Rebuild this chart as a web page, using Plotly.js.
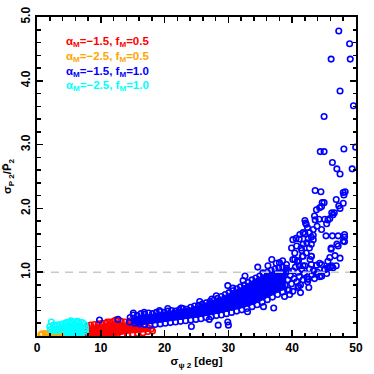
<!DOCTYPE html>
<html>
<head>
<meta charset="utf-8">
<script src="https://cdn.plot.ly/plotly-3.0.1.min.js"></script>
<style>
  html, body { margin: 0; padding: 0; background: #fff; }
  #plot { width: 374px; height: 374px; }
</style>
</head>
<body>
<div id="plot"></div>
<script>
// Values (x = sigma_psi2 in deg, y = sigma_P2 / mean P2).

const legendLabels = [
  "α<sub>M</sub>=−1.5, f<sub>M</sub>=0.5",
  "α<sub>M</sub>=−2.5, f<sub>M</sub>=0.5",
  "α<sub>M</sub>=−1.5, f<sub>M</sub>=1.0",
  "α<sub>M</sub>=−2.5, f<sub>M</sub>=1.0",
];
const groupColors = ["#ff0000", "#ffa500", "#0000ff", "#00ffff"];

const xTickVals = [0, 10, 20, 30, 40, 50];
const yTickVals = [1, 2, 3, 4, 5];
const yTickText = ["1.0", "2.0", "3.0", "4.0", "5.0"];
const refLineX = [0, 50];
const refLineY = [1, 1];

// Envelopes of the saturated (overplotted) cores of each cloud.
const redCoreX = [8.0, 8.0, 9.0, 10.0, 11.0, 12.0, 13.0, 14.0, 15.0, 16.0, 17.0, 17.8, 17.5, 16.0, 14.0, 13.0, 12.5];
const redCoreY = [0.0, 0.14, 0.17, 0.18, 0.19, 0.21, 0.22, 0.20, 0.20, 0.18, 0.14, 0.10, 0.07, 0.06, 0.04, 0.02, 0.0];
const orangeCoreX = [0.9, 0.9, 4.0, 4.0];
const orangeCoreY = [0.0, 0.03, 0.03, 0.0];
const cyanCoreX = [2.3, 2.3, 3.0, 4.0, 5.0, 6.0, 7.0, 7.4, 7.4, 4.3, 4.3];
const cyanCoreY = [0.07, 0.14, 0.16, 0.18, 0.20, 0.21, 0.20, 0.16, 0.0, 0.0, 0.07];
const blueCoreX = [14.8, 16, 18, 20, 22, 24, 26, 28, 30, 32, 34, 36, 38, 39.0,
  39.0, 38, 36, 34, 32, 30, 28, 26, 24, 22, 20, 18, 16, 14.8];
const blueCoreY = [0.28, 0.32, 0.34, 0.37, 0.40, 0.44, 0.50, 0.57, 0.66, 0.76, 0.88, 0.98, 1.04, 1.03,
  0.74, 0.70, 0.60, 0.50, 0.44, 0.39, 0.35, 0.31, 0.28, 0.25, 0.22, 0.19, 0.17, 0.20];

// Individual circles visible around / outside the cores.
const redPts = [
  [7.9, 0.15], [8.4, 0.17], [9.0, 0.18], [9.6, 0.19], [10.2, 0.20], [10.8, 0.20], [11.4, 0.22],
  [12.0, 0.23], [12.6, 0.24], [13.2, 0.23], [13.8, 0.22], [14.4, 0.21], [15.0, 0.22], [15.6, 0.20],
  [16.2, 0.19], [16.8, 0.16], [17.4, 0.13], [17.9, 0.11], [18.1, 0.08], [7.9, 0.10], [7.9, 0.05],
  [8.0, 0.02], [17.4, 0.07], [16.6, 0.05], [15.8, 0.04], [15.0, 0.03], [14.2, 0.02], [13.4, 0.01],
  [12.3, 0.25], [11.0, 0.22], [14.7, 0.24],
];
const orangePts = [
  [0.8, 0.035], [1.3, 0.04], [1.8, 0.04], [2.3, 0.04], [2.8, 0.04], [3.3, 0.04], [3.8, 0.04],
  [4.2, 0.03], [0.6, 0.02], [4.3, 0.015],
];
const cyanPts = [
  [2.25, 0.22], [2.0, 0.15], [2.1, 0.10], [2.6, 0.17], [3.1, 0.17], [3.6, 0.18], [4.1, 0.19],
  [4.6, 0.21], [5.1, 0.21], [5.6, 0.22], [6.1, 0.22], [6.6, 0.22], [7.1, 0.21], [7.5, 0.18],
  [7.6, 0.13], [7.6, 0.08], [7.6, 0.03], [2.6, 0.08], [3.2, 0.08], [3.8, 0.09], [5.3, 0.24],
  [6.3, 0.23],
];
const bluePts = [
  // upper edge of the band
  [14.6, 0.29], [15.1, 0.33], [15.7, 0.32], [16.3, 0.35], [16.9, 0.34], [17.5, 0.36], [18.1, 0.35],
  [18.7, 0.37], [19.3, 0.38], [19.9, 0.37], [20.5, 0.39], [21.1, 0.40], [21.7, 0.39], [22.3, 0.41],
  [22.9, 0.43], [23.5, 0.42], [24.1, 0.45], [24.7, 0.47], [25.3, 0.48], [25.9, 0.50], [26.5, 0.52],
  [27.1, 0.54], [27.7, 0.56], [28.3, 0.59], [28.9, 0.62], [29.5, 0.65], [30.1, 0.68], [30.7, 0.71],
  [31.3, 0.74], [31.9, 0.77], [32.5, 0.80], [33.1, 0.84], [33.7, 0.88], [34.3, 0.91], [34.9, 0.94],
  [35.5, 0.97], [36.1, 1.00], [36.7, 1.03], [37.3, 1.05], [37.9, 1.07], [38.5, 1.08], [39.1, 1.06],
  // just above the band
  [15.1, 0.36], [16.8, 0.37], [19.2, 0.40], [20.5, 0.43], [22.6, 0.44], [25.5, 0.54], [27.4, 0.58],
  [28.1, 0.63], [29.9, 0.79], [30.7, 0.75], [32.3, 0.87], [32.6, 0.94], [34.6, 1.08], [35.4, 0.99],
  [36.8, 1.20], [37.5, 1.14], [38.0, 1.15], [39.1, 1.12], [36.2, 1.10], [38.5, 1.18], [9.8, 0.25],
  [12.7, 0.26],
  // lower edge of the band
  [14.5, 0.22], [15.3, 0.20], [16.1, 0.19], [16.9, 0.18], [17.7, 0.17], [18.5, 0.18], [19.3, 0.19],
  [20.1, 0.20], [20.9, 0.21], [21.7, 0.22], [22.5, 0.23], [23.3, 0.24], [24.1, 0.25], [24.9, 0.26],
  [25.7, 0.27], [26.5, 0.29], [27.3, 0.30], [28.1, 0.32], [28.9, 0.33], [29.7, 0.35], [30.5, 0.37],
  [31.3, 0.39], [32.1, 0.41], [32.9, 0.43], [33.7, 0.46], [34.5, 0.49], [35.3, 0.53], [36.1, 0.57],
  [36.9, 0.61], [37.7, 0.65], [38.5, 0.69], [39.3, 0.72],
  // below the band
  [24.2, 0.15], [28.4, 0.17], [29.9, 0.22], [30.0, 0.17], [37.1, 0.44], [38.8, 0.62], [39.6, 0.65],
  [33.0, 0.38], [35.5, 0.46], [27.0, 0.26],
  // loose cloud around 38-47 deg
  [38.9, 0.80], [39.3, 0.88], [39.7, 0.95], [40.1, 1.02], [40.5, 1.08], [40.9, 1.00], [40.3, 0.90],
  [39.9, 0.82], [40.7, 0.85], [41.1, 0.93], [41.5, 1.05], [41.9, 0.98], [42.3, 0.92], [41.3, 0.80],
  [40.9, 0.76], [39.5, 0.72], [40.1, 0.70], [41.7, 0.88], [42.5, 0.89], [42.7, 1.05], [43.1, 0.96],
  [43.5, 0.90], [43.9, 0.97], [44.3, 0.93], [44.6, 0.94], [45.1, 1.04], [45.6, 1.07], [46.0, 1.08],
  [46.4, 1.07], [46.9, 1.10], [46.2, 1.10], [45.4, 0.98], [43.3, 1.02], [42.0, 1.10], [41.0, 1.18],
  [40.4, 1.20], [40.8, 1.17], [39.4, 1.02], [38.6, 0.95], [38.2, 0.88], [37.8, 0.92], [37.2, 0.85],
  [36.6, 0.80], [39.0, 1.00], [41.7, 1.10], [42.4, 0.85], [42.6, 0.76], [41.3, 0.68], [43.0, 1.12],
  [41.6, 1.25], [43.0, 1.25], [44.3, 1.14], [43.8, 1.11], [44.0, 1.00], [41.0, 0.78],
  // left arm
  [40.1, 1.51], [40.6, 1.53], [41.1, 1.52], [41.2, 1.59], [41.7, 1.62], [42.0, 1.81], [42.1, 1.77],
  [42.2, 1.75], [42.5, 1.52], [42.7, 1.62], [43.3, 1.67], [43.3, 1.51], [43.6, 1.82], [43.9, 1.72],
  [43.5, 1.88], [43.8, 1.98], [44.3, 2.01], [44.7, 2.09], [44.6, 1.67], [43.6, 2.28], [44.5, 2.26],
  [40.7, 1.41], [41.4, 1.38], [42.7, 1.38], [39.9, 1.38], [42.2, 1.30], [43.0, 1.25], [41.7, 1.25],
  [40.1, 1.20], [40.8, 1.17], [41.7, 1.44], [42.3, 1.46], [42.0, 1.60], [41.5, 1.34], [40.4, 1.30],
  [43.0, 1.44], [42.8, 1.20], [41.1, 1.10], [43.3, 1.58], [42.4, 1.70], [43.0, 1.55],
  // right arm
  [48.0, 2.25], [48.3, 2.26], [48.1, 2.21], [46.9, 2.14], [47.3, 2.04], [48.0, 2.08], [47.5, 2.00],
  [46.6, 1.93], [46.2, 1.93], [46.4, 1.90], [45.9, 1.84], [45.1, 1.83], [45.6, 1.82], [45.4, 1.76],
  [44.2, 1.83], [45.0, 2.09], [44.6, 2.03], [48.2, 1.59], [48.2, 1.55], [48.2, 1.48], [47.2, 1.57],
  [45.3, 1.57], [46.3, 1.57], [48.0, 1.49], [47.0, 1.44], [47.2, 1.41], [46.1, 1.38], [46.1, 1.36],
  [47.5, 1.22], [46.7, 1.26], [45.9, 1.23], [45.6, 1.17], [44.6, 1.12], [43.8, 1.11], [45.6, 1.07],
  [45.1, 1.04], [44.6, 0.94], [43.8, 0.97], [42.5, 0.89],
  // high outliers
  [47.3, 4.78], [49.0, 4.58], [46.1, 4.34], [49.1, 4.34], [47.5, 3.84], [49.6, 3.61], [45.0, 3.44],
  [48.1, 2.93], [44.4, 2.89], [45.0, 2.89], [46.3, 2.72], [47.0, 2.62], [47.5, 2.54], [49.4, 2.62],
  [49.95, 2.96],
];

const groupCores = [
  [redCoreX, redCoreY],
  [orangeCoreX, orangeCoreY],
  [blueCoreX, blueCoreY],
  [cyanCoreX, cyanCoreY],
];
const groupPts = [redPts, orangePts, bluePts, cyanPts];

const FONT = "Liberation Sans, Arial, sans-serif";

function coreTrace(core, color) {
  return {
    x: core[0],
    y: core[1],
    type: "scatter",
    mode: "lines",
    fill: "toself",
    fillcolor: color,
    line: { color, width: 1 },
    hoverinfo: "skip",
    showlegend: false,
  };
}

function pointTrace(pts, color) {
  return {
    x: pts.map((p) => p[0]),
    y: pts.map((p) => p[1]),
    type: "scatter",
    mode: "markers",
    marker: { symbol: "circle-open", size: 5.5, color, line: { color, width: 1.6 } },
    showlegend: false,
  };
}

const traces = [];
groupColors.forEach((color, i) => {
  traces.push(coreTrace(groupCores[i], color));
  traces.push(pointTrace(groupPts[i], color));
});
traces.push({
  x: refLineX,
  y: refLineY,
  type: "scatter",
  mode: "lines",
  line: { color: "#c8c8c8", width: 1.5, dash: "8px,6px" },
  hoverinfo: "skip",
  showlegend: false,
});

const legendY = [0.921, 0.875, 0.829, 0.783];
const annotations = legendLabels.map((label, i) => ({
  text: label,
  xref: "paper",
  yref: "paper",
  x: 0.086,
  y: legendY[i],
  xanchor: "left",
  yanchor: "middle",
  showarrow: false,
  font: { family: FONT, size: 11.5, color: groupColors[i], weight: 600 },
}));

const axisCommon = {
  showgrid: false,
  zeroline: false,
  showline: true,
  linecolor: "#000",
  linewidth: 2,
  mirror: "allticks",
  ticks: "inside",
  tickcolor: "#000",
  tickwidth: 1.5,
  ticklen: 6,
  tickfont: { family: FONT, size: 12, color: "#000", weight: 600 },
};

const layout = {
  width: 374,
  height: 374,
  margin: { l: 37, r: 18, t: 17, b: 38 },
  paper_bgcolor: "#fff",
  plot_bgcolor: "#fff",
  showlegend: false,
  xaxis: {
    ...axisCommon,
    range: [0, 50],
    tickmode: "array",
    tickvals: xTickVals,
    minor: { dtick: 2, tick0: 0, ticks: "inside", ticklen: 3.5, tickwidth: 1.5, tickcolor: "#000" },
    title: { text: "σ<sub>ψ 2</sub> [deg]", font: { family: FONT, size: 11.5, color: "#000", weight: 600 }, standoff: 3 },
  },
  yaxis: {
    ...axisCommon,
    range: [0, 5],
    tickmode: "array",
    tickvals: yTickVals,
    ticktext: yTickText,
    tickangle: -90,
    minor: { dtick: 0.2, tick0: 0, ticks: "inside", ticklen: 3.5, tickwidth: 1.5, tickcolor: "#000" },
    title: { text: "σ<sub>P 2</sub>/P̄<sub>2</sub>", font: { family: FONT, size: 11.5, color: "#000", weight: 600 }, standoff: 5 },
  },
  annotations,
};

Plotly.newPlot("plot", traces, layout, { staticPlot: true, displayModeBar: false });
</script>
</body>
</html>
